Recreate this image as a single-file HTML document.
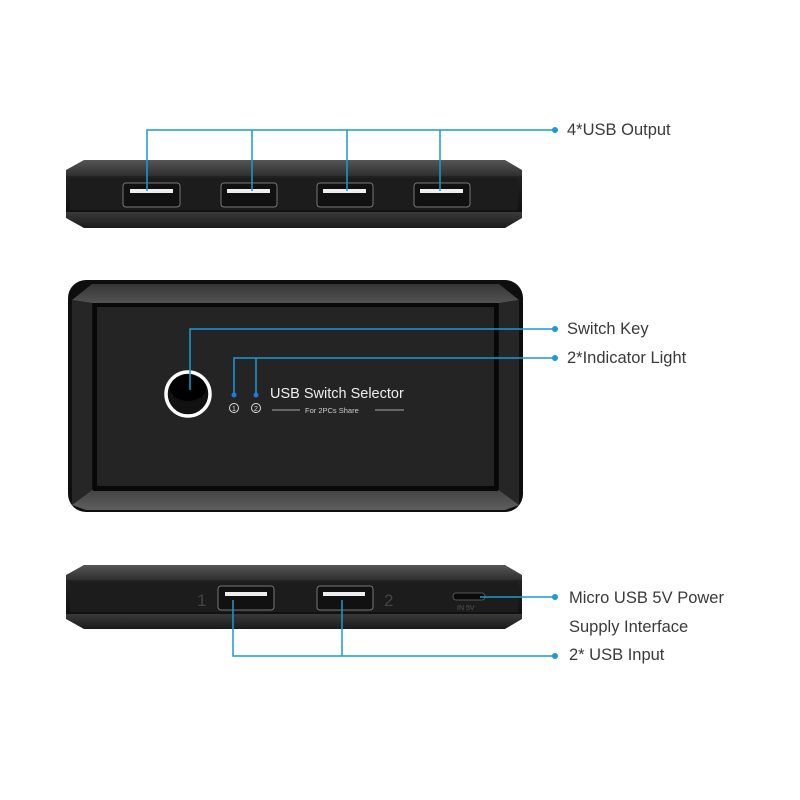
<!DOCTYPE html>
<html><head><meta charset="utf-8"><style>
html,body{margin:0;padding:0;background:#fff}
svg{display:block}
text{font-family:"Liberation Sans",Arial,sans-serif}
</style></head><body>
<svg width="800" height="800" viewBox="0 0 800 800" xmlns="http://www.w3.org/2000/svg">
<defs>
<linearGradient id="tf" x1="0" y1="0" x2="0" y2="1"><stop offset="0" stop-color="#555"/><stop offset="1" stop-color="#2a2a2a"/></linearGradient>
<linearGradient id="bf" x1="0" y1="0" x2="0" y2="1"><stop offset="0" stop-color="#3a3a3a"/><stop offset="1" stop-color="#1a1a1a"/></linearGradient>
<linearGradient id="body" x1="0" y1="0" x2="0" y2="1"><stop offset="0" stop-color="#222"/><stop offset="1" stop-color="#111"/></linearGradient>
<linearGradient id="bev" x1="0" y1="0" x2="0" y2="1"><stop offset="0" stop-color="#3a3a3a"/><stop offset="1" stop-color="#5a5a5a"/></linearGradient>
<linearGradient id="bevb" x1="0" y1="0" x2="0" y2="1"><stop offset="0" stop-color="#444"/><stop offset="1" stop-color="#5e5e5e"/></linearGradient>
</defs>

<!-- TOP DEVICE -->
<path d="M84 160 L505 160 L522 170 L522 178 L66 178 L66 170 Z" fill="url(#tf)"/>
<rect x="66" y="176" width="456" height="36" fill="url(#body)"/>
<rect x="70" y="178" width="448" height="32" fill="#1c1c1c"/>
<path d="M66 212 L522 212 L522 218 L505 228 L84 228 L66 218 Z" fill="url(#bf)"/>
<g fill="#111" stroke="#777" stroke-width="1">
<rect x="123" y="183" width="57" height="24" rx="3"/>
<rect x="221" y="183" width="56" height="24" rx="3"/>
<rect x="317" y="183" width="56" height="24" rx="3"/>
<rect x="414" y="183" width="56" height="24" rx="3"/>
</g>
<g fill="#eee">
<rect x="130" y="189" width="43" height="4"/>
<rect x="227" y="189" width="43" height="4"/>
<rect x="323" y="189" width="43" height="4"/>
<rect x="420" y="189" width="43" height="4"/>
</g>
<g stroke="#1a9ad6" stroke-width="1.5" fill="none">
<path d="M147 191 V130 H555 M252 191 V130 M347 191 V130 M440 191 V130"/>
</g>
<circle cx="555" cy="130" r="3" fill="#1a9ad6"/>
<text x="567" y="135" font-size="16.5" fill="#3a3a3a">4*USB Output</text>

<!-- MIDDLE DEVICE -->
<rect x="68" y="280" width="455" height="232" rx="18" fill="#0e0e0e"/>
<path d="M92 284 L499 284 L519 300 L499 303 L92 303 L72 300 Z" fill="url(#bev)" opacity="0.9"/>
<path d="M92 490 L499 490 L519 505 L505 510 L86 510 L72 505 Z" fill="url(#bevb)"/>
<path d="M72 300 L92 303 L92 490 L72 505 Z" fill="#262626"/>
<path d="M519 300 L499 303 L499 490 L519 505 Z" fill="#262626"/>
<rect x="93" y="303" width="405" height="188" fill="#080808"/>
<rect x="97" y="307" width="397" height="179" fill="#242424"/>
<circle cx="188" cy="394" r="22" fill="#111" stroke="#fff" stroke-width="3.5"/>
<ellipse cx="188" cy="388" rx="18" ry="13" fill="#000"/>
<circle cx="234" cy="395" r="2.5" fill="#1a7de0"/>
<circle cx="256" cy="395" r="2.5" fill="#1a7de0"/>
<circle cx="234" cy="408" r="4.5" fill="none" stroke="#ddd" stroke-width="1"/>
<text x="234" y="411" font-size="7" fill="#ddd" text-anchor="middle">1</text>
<circle cx="256" cy="408" r="4.5" fill="none" stroke="#ddd" stroke-width="1"/>
<text x="256" y="411" font-size="7" fill="#ddd" text-anchor="middle">2</text>
<text x="270" y="398" font-size="14.5" fill="#eee">USB Switch Selector</text>
<line x1="272" y1="410" x2="300" y2="410" stroke="#aaa" stroke-width="1"/>
<line x1="375" y1="410" x2="404" y2="410" stroke="#aaa" stroke-width="1"/>
<text x="305" y="413" font-size="7.5" fill="#ccc">For 2PCs Share</text>
<g stroke="#1a9ad6" stroke-width="1.5" fill="none">
<path d="M190 390 V329 H555"/>
<path d="M234 393 V358 H555 M256 393 V358"/>
</g>
<circle cx="555" cy="329" r="3" fill="#1a9ad6"/>
<circle cx="555" cy="358" r="3" fill="#1a9ad6"/>
<text x="567" y="334" font-size="16.5" fill="#3a3a3a">Switch Key</text>
<text x="567" y="363" font-size="16.5" fill="#3a3a3a">2*Indicator Light</text>

<!-- BOTTOM DEVICE -->
<path d="M84 565 L505 565 L522 575 L522 582 L66 582 L66 575 Z" fill="url(#tf)"/>
<rect x="66" y="580" width="456" height="34" fill="url(#body)"/>
<rect x="70" y="582" width="448" height="30" fill="#1c1c1c"/>
<path d="M66 614 L522 614 L522 619 L505 629 L84 629 L66 619 Z" fill="url(#bf)"/>
<g fill="#111" stroke="#777" stroke-width="1">
<rect x="218" y="586" width="56" height="24" rx="3"/>
<rect x="317" y="586" width="56" height="24" rx="3"/>
</g>
<g fill="#eee">
<rect x="225" y="592" width="42" height="4"/>
<rect x="323" y="592" width="42" height="4"/>
</g>
<text x="197" y="606" font-size="17" fill="#444">1</text>
<text x="384" y="606" font-size="17" fill="#444">2</text>
<rect x="453" y="593" width="32" height="7" rx="3" fill="#0a0a0a" stroke="#555" stroke-width="1"/>
<text x="457" y="610" font-size="7" fill="#555">IN 5V</text>
<g stroke="#1a9ad6" stroke-width="1.5" fill="none">
<path d="M480 597 H555"/>
<path d="M233 600 V656 H555 M342 600 V656"/>
</g>
<circle cx="555" cy="597" r="3" fill="#1a9ad6"/>
<circle cx="555" cy="656" r="3" fill="#1a9ad6"/>
<text x="569" y="603" font-size="16.5" fill="#3a3a3a">Micro USB 5V Power</text>
<text x="569" y="632" font-size="16.5" fill="#3a3a3a">Supply Interface</text>
<text x="569" y="660" font-size="16.5" fill="#3a3a3a">2* USB Input</text>
</svg>
</body></html>
